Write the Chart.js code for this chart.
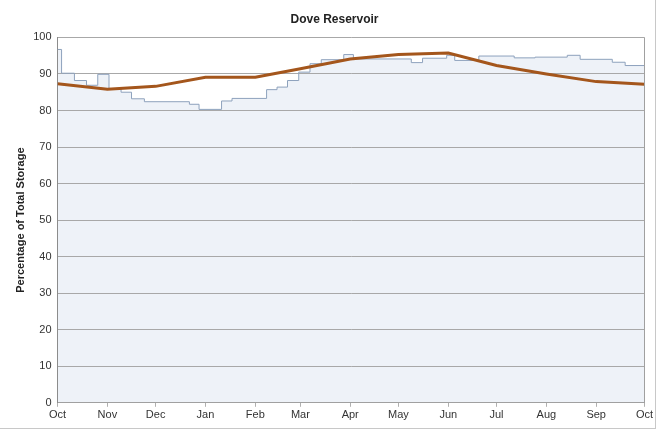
<!DOCTYPE html>
<html>
<head>
<meta charset="utf-8">
<script src="https://cdn.jsdelivr.net/npm/chart.js@4"></script>
<style>
html, body { margin: 0; padding: 0; background: #fff; }
#wrap { position: absolute; left: 0; top: 0; width: 655px; height: 428px;
        border-right: 1px solid #c8c8c8; border-bottom: 1px solid #c8c8c8; }
</style>
</head>
<body>
<div id="wrap"><canvas id="c" width="655" height="428"></canvas></div>
<script>
// water year, day 0 = Oct 1
const monthLabels = ['Oct','Nov','Dec','Jan','Feb','Mar','Apr','May','Jun','Jul','Aug','Sep','Oct'];
const monthDays   = [0, 31, 61, 92, 123, 151, 182, 212, 243, 273, 304, 335, 365];

// long-term average (% of storage) at each month start
const avgValues = [87.3, 85.8, 86.6, 89.1, 89.1, 91.4, 94.1, 95.3, 95.7, 92.3, 90.0, 87.9, 87.2];

// current year storage, step changes (day, %)
const storageDays   = [0, 2.5, 10.5, 18, 25, 32, 39.5, 46, 54, 82, 88, 102, 108.5, 130, 136.5, 143, 150, 157, 164, 178, 184, 220, 227, 242, 247, 262, 284, 297, 317, 325, 345, 353, 365];
const storageValues = [96.7, 90.2, 88.2, 86.9, 89.9, 85.9, 85.0, 83.2, 82.4, 81.7, 80.3, 82.6, 83.3, 85.7, 86.4, 88.2, 90.5, 92.8, 93.9, 95.3, 94.1, 93.1, 94.3, 95.1, 93.7, 94.9, 94.4, 94.6, 95.1, 94.0, 93.2, 92.3, 92.3];

const plotBorder = {
    id: 'plotBorder',
    afterDraw(chart) {
        const a = chart.chartArea, ctx = chart.ctx;
        ctx.save();
        ctx.strokeStyle = '#a0a0a0';
        ctx.lineWidth = 1;
        ctx.beginPath();
        ctx.moveTo(Math.round(a.right) + 0.5, a.top);
        ctx.lineTo(Math.round(a.right) + 0.5, a.bottom);
        ctx.stroke();
        ctx.restore();
    }
};

new Chart(document.getElementById('c'), {
    type: 'line',
    data: {
        datasets: [
            {
                label: 'Average',
                data: monthDays.map((d, i) => ({ x: d, y: avgValues[i] })),
                borderColor: '#a4561c',
                borderWidth: 3,
                pointRadius: 0,
                tension: 0,
                fill: false,
                order: 0
            },
            {
                label: 'Storage',
                data: storageDays.map((d, i) => ({ x: d, y: storageValues[i] })),
                borderColor: '#8ea2bd',
                borderWidth: 1,
                backgroundColor: '#eef2f8',
                stepped: true,
                pointRadius: 0,
                fill: 'origin',
                order: 1
            }
        ]
    },
    options: {
        responsive: false,
        animation: false,
        devicePixelRatio: 1,
        layout: { padding: { left: 14, right: 0, top: 0, bottom: 4 } },
        plugins: {
            legend: { display: false },
            tooltip: { enabled: false },
            filler: { drawTime: 'beforeDraw' },
            title: {
                display: true,
                text: 'Dove Reservoir',
                color: '#222',
                font: { family: 'Liberation Sans, Arial, sans-serif', size: 12, weight: 'bold' },
                padding: { top: 12, bottom: 11 }
            }
        },
        scales: {
            x: {
                type: 'linear',
                min: 0,
                max: 365,
                afterBuildTicks(axis) { axis.ticks = monthDays.map(v => ({ value: v })); },
                ticks: {
                    autoSkip: false,
                    maxRotation: 0,
                    color: '#333',
                    padding: 2,
                    font: { family: 'Liberation Sans, Arial, sans-serif', size: 11 },
                    callback: (v, i) => monthLabels[i]
                },
                grid: { display: true, drawOnChartArea: false, drawTicks: true, tickLength: 4, color: '#b0b0b0' },
                border: { color: '#a0a0a0' }
            },
            y: {
                min: 0,
                max: 100,
                ticks: {
                    stepSize: 10,
                    color: '#333',
                    padding: 6,
                    font: { family: 'Liberation Sans, Arial, sans-serif', size: 11 }
                },
                grid: { color: '#a8a8a8', drawTicks: false },
                border: { color: '#8c8c8c' },
                title: {
                    display: true,
                    text: 'Percentage of Total Storage',
                    color: '#222',
                    padding: { top: 0, bottom: 0 },
                    font: { family: 'Liberation Sans, Arial, sans-serif', size: 11, weight: 'bold' }
                }
            }
        }
    },
    plugins: [plotBorder]
});
</script>
</body>
</html>
